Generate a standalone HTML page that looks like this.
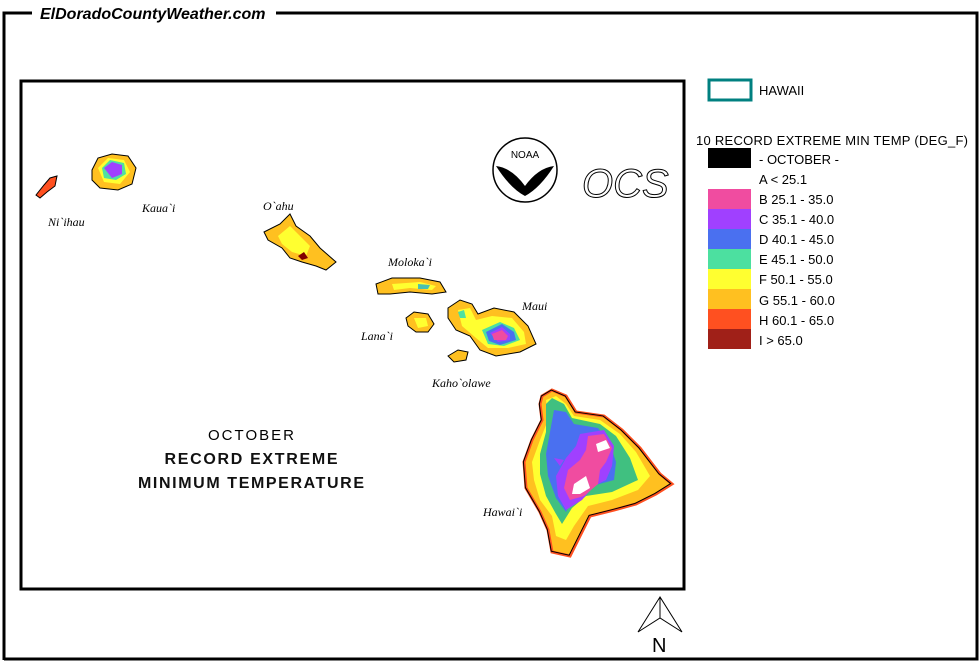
<!DOCTYPE html>
<html><head><style>
body{margin:0;background:#fff;width:980px;height:661px;overflow:hidden}
svg{display:block}
text{font-family:"Liberation Sans",sans-serif}
.it{font-family:"Liberation Serif",serif;font-style:italic;font-size:12px}
.lg{font-size:13px}
</style></head><body>
<svg width="980" height="661" viewBox="0 0 980 661">
<rect width="980" height="661" fill="#fff"/>
<path d="M4,660 V13 H32 M276,13 H977 V659 H4" fill="none" stroke="#000" stroke-width="3"/>
<text x="40" y="19" font-size="16" font-weight="bold" font-style="italic">ElDoradoCountyWeather.com</text>
<rect x="21" y="81" width="663" height="508" fill="none" stroke="#000" stroke-width="3"/>
<path d="M36,195 L44,185 L50,178 L57,176 L55,186 L47,192 L40,198Z" fill="#ff5020" stroke="#000"/>
<text class="it" x="48" y="226">Ni`ihau</text>
<path d="M92,170 L98,158 L112,154 L128,156 L136,168 L132,184 L118,190 L100,188 L92,180Z" fill="#ffc020" stroke="#000"/>
<path d="M98,168 L108,158 L124,160 L130,172 L120,184 L104,182Z" fill="#ffff30"/>
<path d="M102,168 L110,160 L124,163 L126,174 L116,180 L104,178Z" fill="#50e0a0"/>
<path d="M104,168 L112,162 L122,165 L122,174 L112,178Z" fill="#a040ff"/>
<text class="it" x="142" y="212">Kaua`i</text>
<path d="M264,232 L280,224 L290,214 L296,226 L310,236 L320,248 L336,262 L326,270 L316,266 L302,262 L290,258 L282,248 L268,240Z" fill="#ffc020" stroke="#000"/>
<path d="M278,236 L290,226 L300,236 L310,246 L306,256 L292,252 L282,244Z" fill="#ffff30"/>
<path d="M298,256 L304,252 L308,258 L302,260Z" fill="#800000"/>
<text class="it" x="263" y="210">O`ahu</text>
<path d="M376,284 L392,278 L420,278 L440,282 L446,292 L432,294 L410,292 L390,294 L378,294Z" fill="#ffc020" stroke="#000"/>
<path d="M392,284 L420,282 L436,286 L432,290 L410,288 L394,290Z" fill="#ffff30"/>
<path d="M418,284 L430,285 L428,289 L418,289Z" fill="#4ac0b0"/>
<text class="it" x="388" y="266">Moloka`i</text>
<path d="M406,318 L414,312 L428,314 L434,324 L428,332 L416,332 L408,326Z" fill="#ffc020" stroke="#000"/>
<path d="M414,318 L426,318 L428,326 L418,328Z" fill="#ffff30"/>
<text class="it" x="361" y="340">Lana`i</text>
<path d="M448,356 L458,350 L468,352 L466,360 L454,362Z" fill="#ffc020" stroke="#000"/>
<text class="it" x="432" y="387">Kaho`olawe</text>
<path d="M448,308 L460,300 L472,304 L478,314 L494,308 L514,312 L528,326 L536,344 L520,352 L496,356 L480,350 L470,336 L456,330 L448,318Z" fill="#ffc020" stroke="#000"/>
<path d="M458,310 L470,308 L476,320 L492,316 L512,318 L524,332 L526,344 L508,348 L488,348 L476,338 L462,326Z" fill="#ffff30"/>
<path d="M482,330 L500,322 L514,328 L520,340 L504,346 L488,344Z" fill="#4ce0a0"/>
<path d="M486,332 L502,324 L514,332 L516,340 L500,345 L489,341Z" fill="#4a70f0"/>
<path d="M490,333 L502,327 L510,334 L510,340 L498,342Z" fill="#a040ff"/>
<path d="M492,334 L502,330 L508,336 L506,340 L494,340Z" fill="#f04ca0"/>
<path d="M458,312 L464,310 L466,318 L460,318Z" fill="#4ce0a0"/>
<text class="it" x="522" y="310">Maui</text>
<!-- Hawaii -->
<path d="M542,396 L552,390 L566,396 L576,412 L604,416 L622,430 L640,448 L660,474 L672,484 L656,494 L636,504 L614,510 L590,516 L580,536 L570,556 L552,552 L548,530 L540,512 L526,488 L524,462 L532,440 L542,420 L540,404Z" fill="#ffc020" stroke="#ff5020" stroke-width="3"/>
<path d="M546,400 L556,396 L566,404 L574,416 L600,420 L620,434 L636,452 L650,476 L638,490 L612,500 L588,506 L574,526 L566,540 L556,536 L552,516 L540,500 L534,480 L532,462 L540,440 L548,420Z" fill="#ffff30"/>
<path d="M546,404 L552,398 L564,404 L572,418 L600,424 L616,436 L630,458 L638,480 L612,492 L586,496 L572,508 L562,524 L556,514 L546,496 L540,474 L540,454 L546,432Z" fill="#40c080"/>
<path d="M554,410 L566,412 L574,424 L598,428 L610,444 L616,462 L614,480 L592,486 L574,494 L566,512 L556,498 L548,476 L546,454 L550,432Z" fill="#4a70f0"/>
<path d="M580,434 L604,430 L614,446 L612,466 L606,480 L594,486 L582,500 L566,510 L558,496 L556,476 L566,458 L576,446Z" fill="#a040ff"/>
<path d="M588,436 L604,434 L612,448 L606,462 L600,470 L598,484 L584,496 L570,500 L564,488 L568,470 L580,460 L586,450Z" fill="#f04ca0"/>
<path d="M596,444 L606,440 L610,448 L598,452Z" fill="#fff"/>
<path d="M574,484 L586,476 L590,488 L580,494 L572,494Z" fill="#fff"/>
<path d="M554,458 L564,460 L560,466Z" fill="#a040ff"/>
<path d="M542,396 L552,390 L566,396 L576,412 L604,416 L622,430 L640,448 L660,474 L672,484 L656,494 L636,504 L614,510 L590,516 L580,536 L570,556 L552,552 L548,530 L540,512 L526,488 L524,462 L532,440 L542,420 L540,404Z" fill="none" stroke="#000" stroke-width="1" transform="translate(2,2) scale(0.995)"/>
<text class="it" x="483" y="516">Hawai`i</text>
<circle cx="525" cy="170" r="32" fill="#fff" stroke="#000" stroke-width="1.5"/>
<text x="525" y="158" font-size="10" text-anchor="middle">NOAA</text>
<path d="M496,166 Q512,168 525,186 Q538,168 554,166 Q540,188 525,196 Q510,188 496,166Z" fill="#000"/>
<text x="582" y="197" font-size="40" font-style="italic" font-family="Liberation Serif,serif" fill="#fff" stroke="#000" stroke-width="1">OCS</text>
<text x="251" y="440" font-size="15" text-anchor="middle" textLength="86">OCTOBER</text>
<text x="251" y="464" font-size="16" font-weight="bold" text-anchor="middle" textLength="173" fill="#111">RECORD EXTREME</text>
<text x="251" y="488" font-size="16" font-weight="bold" text-anchor="middle" textLength="226" fill="#111">MINIMUM TEMPERATURE</text>
<rect x="709" y="80" width="42" height="20" fill="#fff" stroke="#008080" stroke-width="3"/>
<text class="lg" x="759" y="95">HAWAII</text>
<text class="lg" x="696" y="145" textLength="272">10 RECORD EXTREME MIN TEMP (DEG_F)</text>
<rect x="708" y="148" width="43" height="20" fill="#000"/>
<text class="lg" x="759" y="164">- OCTOBER -</text>
<text class="lg" x="759" y="184">A &lt; 25.1</text>
<rect x="708" y="189" width="43" height="20" fill="#f04ca0"/><text class="lg" x="759" y="204">B 25.1 - 35.0</text>
<rect x="708" y="209" width="43" height="20" fill="#a040ff"/><text class="lg" x="759" y="224">C 35.1 - 40.0</text>
<rect x="708" y="229" width="43" height="20" fill="#4a70f0"/><text class="lg" x="759" y="244">D 40.1 - 45.0</text>
<rect x="708" y="249" width="43" height="20" fill="#4ce0a0"/><text class="lg" x="759" y="264">E 45.1 - 50.0</text>
<rect x="708" y="269" width="43" height="20" fill="#ffff30"/><text class="lg" x="759" y="284">F 50.1 - 55.0</text>
<rect x="708" y="289" width="43" height="20" fill="#ffc020"/><text class="lg" x="759" y="305">G 55.1 - 60.0</text>
<rect x="708" y="309" width="43" height="20" fill="#ff5020"/><text class="lg" x="759" y="325">H 60.1 - 65.0</text>
<rect x="708" y="329" width="43" height="20" fill="#a02018"/><text class="lg" x="759" y="345">I &gt; 65.0</text>
<path d="M660,597 L638,632 L660,618 L682,632Z" fill="#fff" stroke="#000"/>
<line x1="660" y1="597" x2="660" y2="618" stroke="#000"/>
<text x="652" y="652" font-size="20">N</text>
</svg>
</body></html>
